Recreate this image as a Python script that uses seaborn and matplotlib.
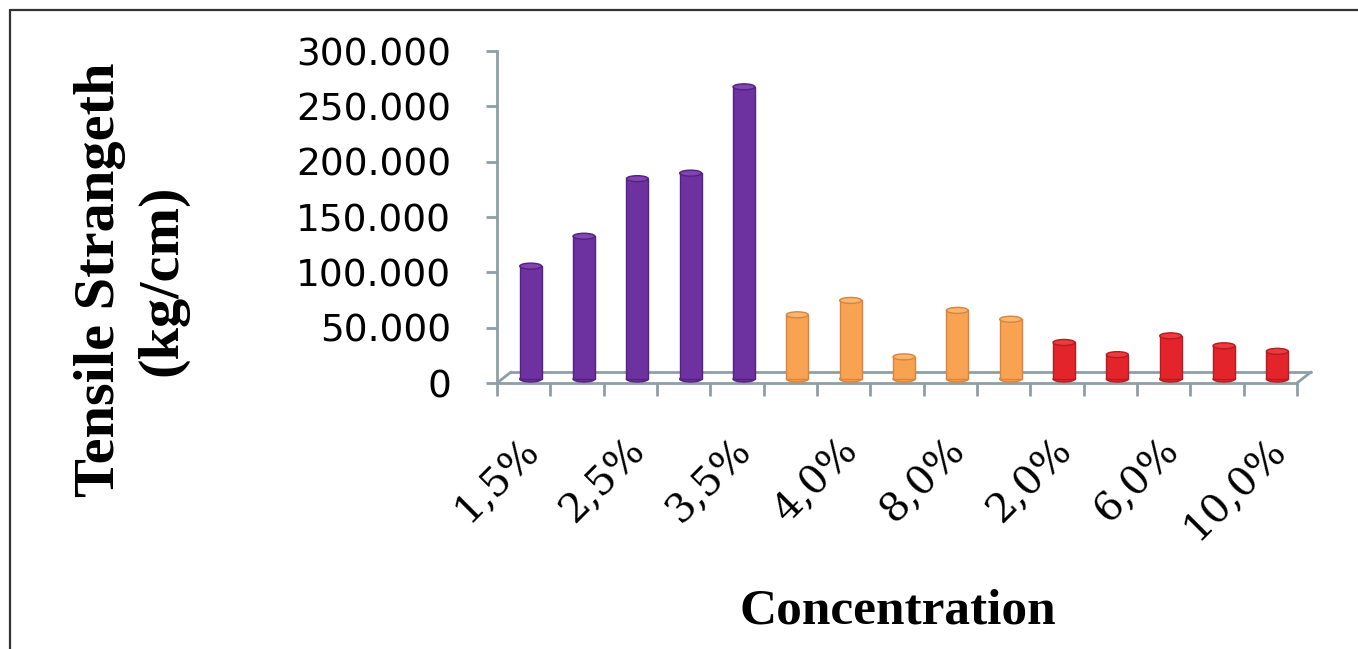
import numpy as np
import pandas as pd
import matplotlib
matplotlib.use("Agg")
import matplotlib.pyplot as plt
import seaborn as sns
from matplotlib.transforms import ScaledTranslation
from matplotlib.lines import Line2D
from matplotlib.patches import Ellipse

# --- data -------------------------------------------------------------
concentrations = ["1,5%", "2,0%", "2,5%", "3,0%", "3,5%",
                  "2,0%", "4,0%", "6,0%", "8,0%", "10,0%",
                  "2,0%", "4,0%", "6,0%", "8,0%", "10,0%"]
series = ["S1"] * 5 + ["S2"] * 5 + ["S3"] * 5
tensile = [102, 129, 181, 186, 264,
           58, 71, 20, 62, 54,
           33, 22, 39, 30, 25]
y_ticks = [0, 50, 100, 150, 200, 250, 300]
y_tick_labels = ["0", "50.000", "100.000", "150.000", "200.000", "250.000", "300.000"]
series_colors = {"S1": "#6E32A0", "S2": "#F8A352", "S3": "#E3252B"}
series_edges = {"S1": "#55207F", "S2": "#D9843A", "S3": "#B81A1E"}
series_caps = {"S1": "#7F45B0", "S2": "#FAB570", "S3": "#EC3B40"}

df = pd.DataFrame({
    "slot": [str(i) for i in range(len(tensile))],
    "value": tensile,
    "series": series,
})

# --- figure -----------------------------------------------------------
sns.set_theme(style="white")
plt.rcParams["font.family"] = ["DejaVu Sans"]

W, H = 1358, 649
fig = plt.figure(figsize=(W / 100, H / 100), dpi=100)
ax = fig.add_axes([497 / W, 266 / H, 800 / W, 332 / H])

sns.barplot(data=df, x="slot", y="value", hue="series",
            palette=series_colors, saturation=1, dodge=False, width=0.41,
            legend=False, ax=ax, order=list(df["slot"]))

ax.set_xlim(-0.5, len(tensile) - 0.5)
ax.set_ylim(0, 300)

# cylinders sit a little behind the front edge of the floor
shift = ScaledTranslation(7 / 100, 4 / 100, fig.dpi_scale_trans)
cap_h = 6 / 332 * 300  # cap ellipse height in data units (~6 px)
bars = list(ax.patches)
for patch, s in zip(bars, series):
    patch.set_transform(ax.transData + shift)
    patch.set_edgecolor(series_edges[s])
    patch.set_linewidth(1.0)
    patch.set_zorder(3)
    x0, w, h = patch.get_x(), patch.get_width(), patch.get_height()
    # rounded bottom and top of each cylinder
    bottom = Ellipse((x0 + w / 2, 0), w, cap_h, facecolor=series_colors[s],
                     edgecolor=series_edges[s], lw=1.0, zorder=2.9,
                     transform=ax.transData + shift, clip_on=False)
    top = Ellipse((x0 + w / 2, h), w, cap_h, facecolor=series_caps[s],
                  edgecolor=series_edges[s], lw=1.0, zorder=3.1,
                  transform=ax.transData + shift, clip_on=False)
    ax.add_patch(bottom)
    ax.add_patch(top)

axis_color = "#8E9FA7"
for side in ["top", "right"]:
    ax.spines[side].set_visible(False)
for side in ["left", "bottom"]:
    ax.spines[side].set_color(axis_color)
    ax.spines[side].set_linewidth(2)

# floor depth (back edge and side edges)
dx, dy = 14 / 800, 11 / 332
floor_kw = dict(color=axis_color, lw=2, transform=ax.transAxes,
                clip_on=False, zorder=0.5)
ax.plot([dx, 1 + dx], [dy, dy], **floor_kw)
ax.plot([0, dx], [0, dy], **floor_kw)
ax.plot([1, 1 + dx], [0, dy], **floor_kw)

# y axis
ax.set_yticks(y_ticks, y_tick_labels)
ax.tick_params(axis="y", left=True, length=8, width=2, color=axis_color,
               pad=25, labelsize=27, labelcolor="black")

# x axis: tick marks between categories, labels on every other one
ax.set_xticks(np.arange(-0.5, len(tensile), 1), minor=True)
label_pos = list(range(0, len(tensile), 2))
ax.set_xticks(label_pos, [concentrations[i] for i in label_pos])
ax.tick_params(axis="x", which="minor", bottom=True, length=9, width=2,
               color=axis_color)
ax.tick_params(axis="x", which="major", bottom=True, length=0, pad=35,
               labelsize=29, labelcolor="black")
lab_shift = ScaledTranslation(-4 / 100, 0, fig.dpi_scale_trans)
for lab in ax.get_xticklabels():
    lab.set_rotation(45)
    lab.set_ha("right")
    lab.set_va("top")
    lab.set_rotation_mode("anchor")
    lab.set_family("DejaVu Serif")
    lab.set_transform(lab.get_transform() + lab_shift)

ax.set_xlabel("")
ax.set_ylabel("")
ax.grid(False)

fig.text(131.5 / W, 1 - 280 / H, "Tensile Strangeth\n(kg/cm)",
         rotation=90, ha="center", va="center", fontsize=42,
         fontweight="bold", family="Liberation Serif", linespacing=1.25,
         color="black")
fig.text(898 / W, 26 / H, "Concentration", ha="center", va="baseline",
         fontsize=37, fontweight="bold", family="Liberation Serif",
         color="black")

# frame around the figure (top and left edges)
frame_kw = dict(color="#333333", lw=1.6, transform=fig.transFigure)
fig.add_artist(Line2D([10 / W, 1], [1 - 10 / H, 1 - 10 / H], **frame_kw))
fig.add_artist(Line2D([10 / W, 10 / W], [0, 1 - 10 / H], **frame_kw))

fig.savefig("out.png", dpi=100, facecolor="white")
